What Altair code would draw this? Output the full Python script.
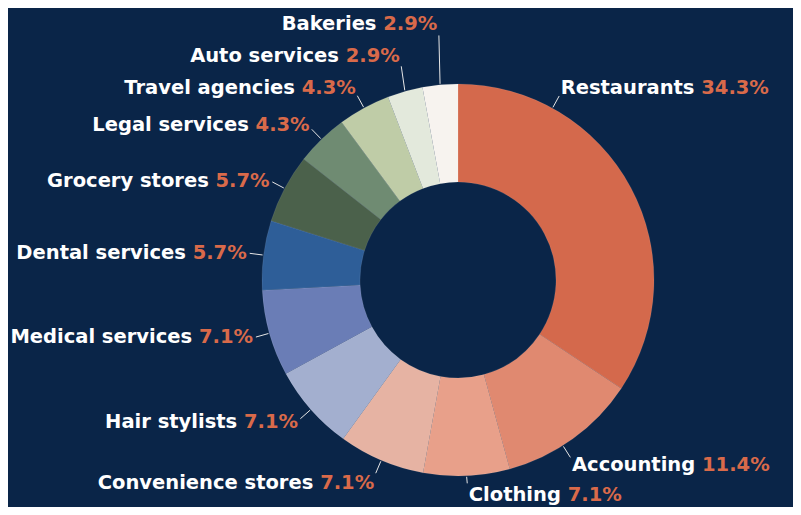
import math
import altair as alt
import pandas as pd

# ---- data ----
categories = ["Restaurants", "Accounting", "Clothing", "Convenience stores",
              "Hair stylists", "Medical services", "Dental services",
              "Grocery stores", "Legal services", "Travel agencies",
              "Auto services", "Bakeries"]
shares = [34.3, 11.4, 7.1, 7.1, 7.1, 7.1, 5.7, 5.7, 4.3, 4.3, 2.9, 2.9]
share_labels = ["34.3%", "11.4%", "7.1%", "7.1%", "7.1%", "7.1%", "5.7%",
                "5.7%", "4.3%", "4.3%", "2.9%", "2.9%"]
colors = ["#d4694c", "#e08970", "#e8a08a", "#e6b3a3", "#a3afcf", "#6a7db6",
          "#2e5e98", "#4b614b", "#6f8b72", "#bfcca7", "#e3e9dc", "#f7f3ef"]

# ---- styling / layout ----
BG = "#0a2548"
ORANGE = "#d96a4a"
WHITE = "#ffffff"
FONT = "DejaVu Sans"
FS = 19.5
W, H = 785, 499
CX, CY = 450, 272
R_IN, R_OUT = 98, 196
R_LINE0 = 197
R_LABEL = 210
V_OFF = 12
GAP = 3
MIN_SPACING = 32
RIGHT_LIMIT = 764

# approximate advance widths (em) of DejaVu Sans Bold, for label layout
ADV = {" ": .348, "%": 1.002, ".": .381, "a": .675, "b": .716, "c": .593,
       "d": .716, "e": .678, "f": .435, "g": .716, "h": .712, "i": .343,
       "k": .665, "l": .343, "m": 1.042, "n": .712, "o": .687, "p": .716,
       "r": .493, "s": .595, "t": .478, "u": .712, "v": .652, "w": .923,
       "y": .652, "A": .774, "B": .762, "C": .734, "D": .830, "G": .821,
       "H": .837, "L": .637, "M": .995, "R": .770, "T": .682}


def text_w(s):
    return sum(ADV.get(ch, .696) for ch in s) * FS


total = sum(shares)
rows = []
cum = 0.0
for i, (c, s, p) in enumerate(zip(categories, shares, share_labels)):
    mid = (cum + s / 2) / total * 360.0
    cum += s
    full = f"{c} {p}"
    side = "right" if mid < 180 else "left"
    theta = mid
    if side == "right":
        while CX + R_LABEL * math.sin(math.radians(theta)) + GAP + text_w(full) > RIGHT_LIMIT:
            theta += -0.5 if theta < 90 else 0.5
    t = math.radians(theta)
    off = V_OFF * math.cos(t) ** 3
    rows.append(dict(idx=i, category=c, share=s, pct=p, full=full, side=side,
                     theta=theta, off=off,
                     xa=CX + R_LABEL * math.sin(t),
                     yt=CY - R_LABEL * math.cos(t) - off))

# simple collision relaxation, bottom-up per side
for side in ("left", "right"):
    grp = sorted([r for r in rows if r["side"] == side], key=lambda r: -r["yt"])
    for a, b in zip(grp, grp[1:]):
        if b["yt"] > a["yt"] - MIN_SPACING:
            b["yt"] = a["yt"] - MIN_SPACING

for r in rows:
    t = math.radians(r["theta"])
    r["yt"] = min(max(r["yt"], FS * 0.6), H - FS * 0.6)
    r["ya"] = r["yt"] + r["off"]
    r["x1"] = CX + R_LINE0 * math.sin(t)
    r["y1"] = CY - R_LINE0 * math.cos(t)
    g = max(GAP * abs(math.sin(t)), 1.5)
    if r["side"] == "right":
        r["x_name"] = r["xa"] + g
        r["x_pct"] = r["x_name"] + text_w(r["category"] + " ")
    else:
        r["x_pct"] = r["xa"] - g
        r["x_name"] = r["x_pct"] - text_w(" " + r["pct"])

df = pd.DataFrame(rows)
df_arc = pd.DataFrame({"idx": list(range(len(categories))),
                       "category": categories, "share": shares})

arcs = alt.Chart(df_arc).mark_arc(
    innerRadius=R_IN, outerRadius=R_OUT,
    stroke=WHITE, strokeWidth=0.5, strokeOpacity=0.18
).encode(
    theta=alt.Theta("share:Q", stack=True),
    color=alt.Color("category:N", scale=alt.Scale(domain=categories, range=colors),
                    legend=None),
    order=alt.Order("idx:Q"),
    x=alt.value(CX), y=alt.value(CY),
)

base = alt.Chart(df)

leaders = base.mark_rule(color="#e6e6e6", strokeWidth=1).encode(
    x=alt.X("x1:Q", scale=None, axis=None),
    y=alt.Y("y1:Q", scale=None, axis=None),
    x2="xa:Q", y2="ya:Q",
)


def text_layer(side, xfield, field, color, align):
    return base.transform_filter(alt.datum.side == side).mark_text(
        align=align, baseline="middle", font=FONT, fontSize=FS,
        fontWeight="bold", color=color
    ).encode(
        x=alt.X(f"{xfield}:Q", scale=None, axis=None),
        y=alt.Y("yt:Q", scale=None, axis=None),
        text=f"{field}:N",
    )


labels = [
    text_layer("right", "x_name", "category", WHITE, "left"),
    text_layer("right", "x_pct", "pct", ORANGE, "left"),
    text_layer("left", "x_name", "category", WHITE, "right"),
    text_layer("left", "x_pct", "pct", ORANGE, "right"),
]

chart = alt.layer(arcs, leaders, *labels).properties(
    width=W, height=H, padding=0,
    autosize=alt.AutoSizeParams(type="none"),
    background=BG,
).configure_view(stroke=None)

chart.save("out.html", embed_options={"renderer": "svg", "actions": False})
